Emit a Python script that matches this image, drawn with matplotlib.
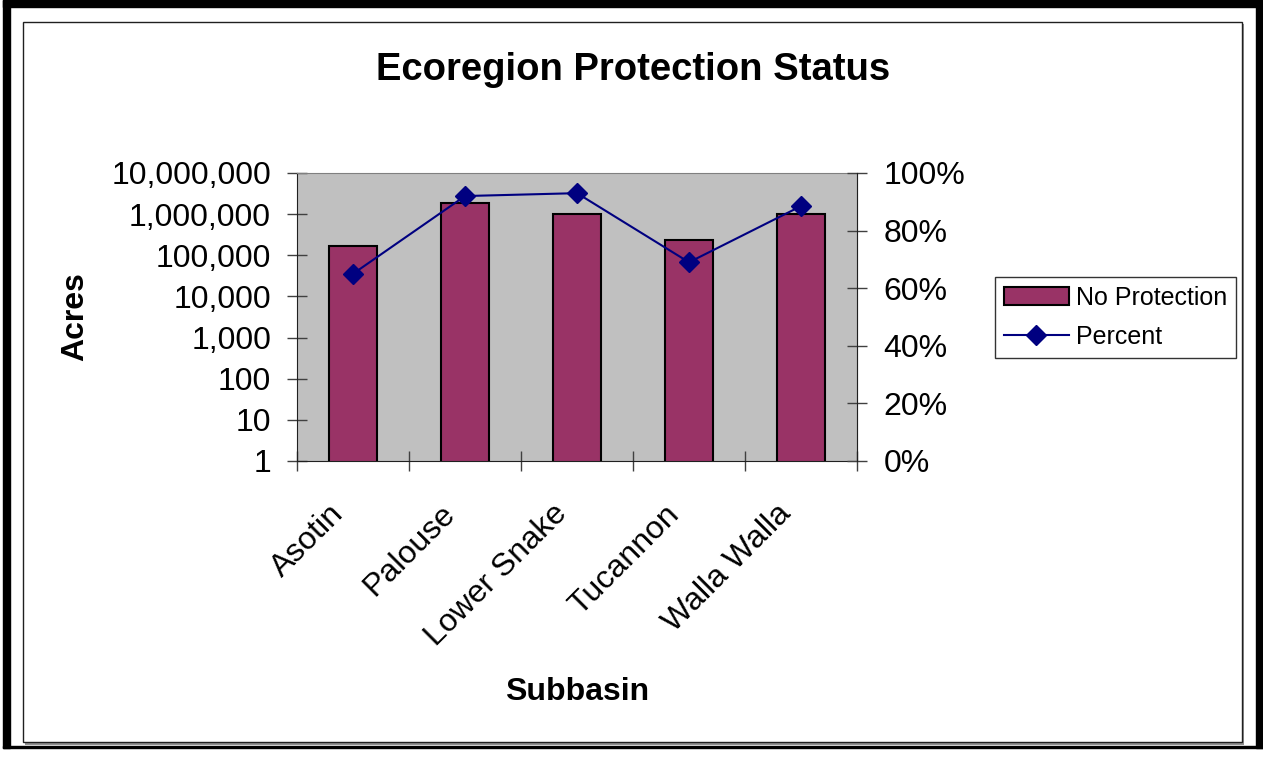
import numpy as np
import matplotlib.pyplot as plt
from matplotlib.patches import Rectangle
from matplotlib.lines import Line2D
from matplotlib.ticker import FixedLocator, FuncFormatter, NullLocator
from matplotlib.transforms import ScaledTranslation

# data
subbasins = ["Asotin", "Palouse", "Lower Snake", "Tucannon", "Walla Walla"]
no_protection = [170000, 1900000, 1000000, 240000, 1000000]
percent = [65, 92, 93, 69, 88.5]

W, H = 1263, 758
plt.rcParams['font.family'] = ['Liberation Sans', 'DejaVu Sans']

fig = plt.figure(figsize=(W / 100, H / 100), dpi=100)


def fx(x):
    return x / W


def fy(y):
    return 1 - y / H


# outer frame
for (x0, y0, x1, y1) in [(3, 0, 1263, 7), (3, 0, 10, 748), (1256, 0, 1263, 748), (3, 746, 1263, 748)]:
    fig.patches.append(Rectangle((fx(x0), fy(y1)), fx(x1 - x0), (y1 - y0) / H,
                                 transform=fig.transFigure, color='black', zorder=0))
# inner chart box with shadow
fig.patches.append(Rectangle((fx(25), fy(745)), fx(1219), 721 / H, transform=fig.transFigure,
                             facecolor='#909090', edgecolor='none', zorder=0))
fig.patches.append(Rectangle((fx(23), fy(742)), fx(1219), 720 / H, transform=fig.transFigure,
                             facecolor='white', edgecolor='#202020', lw=1, zorder=0))

left, right, top, bottom = 297, 857, 173, 461
ax = fig.add_axes([fx(left), fy(bottom), fx(right - left), (bottom - top) / H])
ax.set_facecolor('#C0C0C0')
ax.set_zorder(1)

x = np.arange(len(subbasins))
ax.bar(x, no_protection, width=0.42, color='#993366', edgecolor='black', lw=1.5, zorder=2)
ax.set_yscale('log')
ax.set_ylim(1, 1e7)
ax.set_xlim(-0.5, len(subbasins) - 0.5)
ax.yaxis.set_major_locator(FixedLocator([10 ** i for i in range(8)]))
ax.yaxis.set_minor_locator(NullLocator())
ax.yaxis.set_major_formatter(FuncFormatter(lambda v, p: f"{int(round(v)):,}"))
ax.set_xticks(np.arange(len(subbasins) + 1) - 0.5)
ax.set_xticklabels([])
ax.set_xticks(x, minor=True)
ax.set_xticklabels(subbasins, minor=True, rotation=45, ha='right', va='center',
                   rotation_mode='anchor', fontsize=23)
ax.tick_params(axis='x', which='minor', length=0, pad=35)
ax.tick_params(axis='x', which='major', direction='inout', length=14.4, width=1, color='#404040')
ax.tick_params(axis='y', direction='inout', length=14.4, width=1, color='#404040', labelsize=23, pad=11.5)
# nudge category labels left, like Excel does
shift = ScaledTranslation(-0.14, 0, fig.dpi_scale_trans)
for lab in ax.xaxis.get_minorticklabels():
    lab.set_transform(lab.get_transform() + shift)
for s in ['top', 'right']:
    ax.spines[s].set_color('#808080')
for s in ['left', 'bottom']:
    ax.spines[s].set_color('#202020')

ax2 = ax.twinx()
ax2.plot(x, percent, color='#000080', lw=1.5, marker='D', markersize=10, zorder=3)
ax2.set_ylim(0, 100)
ax2.set_yticks(np.arange(0, 101, 20))
ax2.yaxis.set_major_formatter(FuncFormatter(lambda v, p: f"{int(v)}%"))
ax2.tick_params(axis='y', direction='inout', length=14.4, width=1, color='#404040', labelsize=23, pad=12)
ax2.spines['right'].set_color('#202020')
ax2.spines['top'].set_visible(False)
ax2.spines['left'].set_visible(False)
ax2.spines['bottom'].set_visible(False)

fig.text(fx(633), fy(70), "Ecoregion Protection Status", fontsize=27.5, fontweight='bold',
         ha='center', va='center')
fig.text(fx(75), fy(317), "Acres", fontsize=23, fontweight='bold', rotation=90,
         ha='center', va='center')
fig.text(fx(577), fy(692), "Subbasin", fontsize=23, fontweight='bold', ha='center', va='center')

handles = [Rectangle((0, 0), 1, 1, facecolor='#993366', edgecolor='black', lw=1.5),
           Line2D([], [], color='#000080', lw=1.5, marker='D', markersize=10)]
leg = fig.legend(handles, ["No Protection", "Percent"], loc='upper left',
                 bbox_to_anchor=(fx(995), fy(277)), frameon=True, fancybox=False,
                 fontsize=18, handlelength=2.6, handleheight=0.7, borderpad=0.35,
                 labelspacing=0.6, handletextpad=0.3, borderaxespad=0)
leg.get_frame().set_edgecolor('black')
leg.get_frame().set_linewidth(1)

fig.savefig("out.png", dpi=100)
